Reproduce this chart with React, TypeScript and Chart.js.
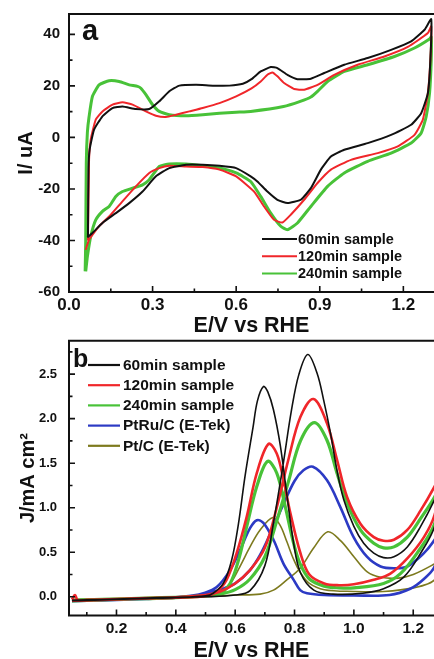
import React, { useEffect, useRef } from 'react';
import { Chart, registerables } from 'chart.js';
Chart.register(...registerables);

// ---------------- Panel a: CV curves (E / V vs RHE, I / uA) ----------------
const cvE60 = [0.068, 0.070, 0.074, 0.090, 0.120, 0.156, 0.192, 0.240, 0.288, 0.324, 0.360, 0.396, 0.456, 0.516, 0.576, 0.624, 0.655, 0.688, 0.724, 0.748, 0.784, 0.820, 0.868, 0.916, 0.988, 1.072, 1.156, 1.228, 1.276, 1.300,
  1.297, 1.288, 1.264, 1.228, 1.156, 1.072, 0.988, 0.940, 0.904, 0.868, 0.832, 0.784, 0.748, 0.712, 0.676, 0.652, 0.600, 0.540, 0.480, 0.420, 0.360, 0.312, 0.264, 0.216, 0.168, 0.120, 0.084, 0.066];
const cvI60 = [-38.5, -12, -4.8, 3, 8.2, 11.4, 12, 11, 11, 14, 17.9, 20.1, 20.4, 20.1, 20.1, 20.8, 22.6, 25.6, 27.3, 26.9, 24.3, 22.6, 22.8, 25, 28.2, 30.8, 34, 37.3, 41.8, 45.9,
  30.1, 17.2, 9.4, 4.9, 1, -2.2, -4.8, -7.4, -12.5, -19.7, -24.2, -25.5, -24.2, -21, -17.1, -15.1, -11.9, -11, -10.6, -10.6, -11.9, -15.1, -21, -25.5, -29.4, -33.2, -37.1, -38.8];

const cvE120 = [0.068, 0.072, 0.078, 0.096, 0.120, 0.156, 0.192, 0.228, 0.276, 0.312, 0.348, 0.384, 0.432, 0.480, 0.540, 0.600, 0.655, 0.688, 0.712, 0.730, 0.748, 0.772, 0.808, 0.844, 0.892, 0.952, 1.036, 1.132, 1.216, 1.288, 1.300,
  1.297, 1.288, 1.270, 1.240, 1.180, 1.108, 1.012, 0.940, 0.892, 0.844, 0.796, 0.766, 0.736, 0.700, 0.664, 0.600, 0.540, 0.480, 0.420, 0.360, 0.324, 0.288, 0.240, 0.192, 0.144, 0.108, 0.084, 0.072, 0.060];
const cvI120 = [-40, -8.7, -0.9, 6.9, 10.1, 12.7, 13.6, 12.7, 10.1, 8.4, 7.9, 8.8, 10.1, 11.4, 13.3, 15.9, 19, 21.7, 24.3, 25.2, 23.7, 21.1, 18.8, 18.5, 20.4, 24.3, 28.2, 31.4, 35.1, 40.5, 43.1,
  30.1, 17.2, 6.9, 1, -3.5, -6.1, -8.7, -12.5, -17.7, -24.2, -30, -33, -32, -26.8, -21, -15.1, -12.5, -11.5, -11.3, -11, -11.9, -13.8, -19, -24.8, -30.7, -34.5, -37.8, -39.7, -43.6];

const cvE240 = [0.058, 0.060, 0.062, 0.066, 0.072, 0.084, 0.108, 0.144, 0.180, 0.216, 0.246, 0.258, 0.276, 0.300, 0.324, 0.360, 0.420, 0.480, 0.540, 0.600, 0.652, 0.770, 0.830, 0.868, 0.892, 0.928, 0.988, 1.072, 1.168, 1.240, 1.294, 1.300,
  1.300, 1.294, 1.282, 1.264, 1.228, 1.156, 1.072, 0.988, 0.928, 0.868, 0.820, 0.784, 0.760, 0.724, 0.688, 0.652, 0.600, 0.540, 0.480, 0.420, 0.360, 0.324, 0.288, 0.264, 0.228, 0.192, 0.168, 0.144, 0.120, 0.096, 0.078, 0.066, 0.060];
const cvI240 = [-52, -40, -10, 2, 8, 15.9, 20.4, 22, 21.7, 20.4, 19.8, 19.1, 16.6, 12.7, 10.1, 8.8, 8.4, 8.8, 9.4, 9.8, 10.1, 12, 14, 15.7, 17.9, 21.7, 25.6, 28.2, 31.4, 34.7, 38.2, 39,
  30, 17.2, 8.1, 1.7, -2.2, -6.1, -9.3, -13.8, -19, -26.8, -33.2, -35.8, -34.5, -29.4, -22.9, -17.1, -13.8, -11.9, -11, -10.3, -10.3, -11.3, -16.4, -18.4, -19.7, -21, -22.9, -26.8, -28.7, -32, -38.4, -46.2, -52];

const labelsA = ['60min sample', '120min sample', '240min sample'];
const xTicksA = [0, 0.3, 0.6, 0.9, 1.2];
const xMinorA = [0.15, 0.45, 0.75, 1.05];
const yTicksA = [-60, -40, -20, 0, 20, 40];
const yMinorA = [-50, -30, -10, 10, 30];

// ---------------- Panel b: methanol oxidation (E / V vs RHE, J / mA cm^-2) ----------------
const mE60 = [0.05, 0.10, 0.20, 0.30, 0.40, 0.50, 0.60, 0.65, 0.70, 0.73, 0.76, 0.79, 0.815, 0.845, 0.876, 0.898, 0.921, 0.943, 0.966, 1.00, 1.033, 1.067, 1.10, 1.135, 1.18, 1.225, 1.272, 1.31,
  1.272, 1.225, 1.168, 1.10, 1.03, 0.93, 0.865, 0.82, 0.797, 0.774, 0.752, 0.729, 0.71, 0.695, 0.675, 0.66, 0.633, 0.611, 0.588, 0.56, 0.526, 0.50, 0.40, 0.30, 0.20, 0.10, 0.05];
const mJ60 = [-0.04, -0.035, -0.025, -0.015, -0.005, 0.0, 0.02, 0.07, 0.35, 0.85, 1.45, 2.1, 2.5, 2.72, 2.51, 2.21, 1.84, 1.42, 1.09, 0.79, 0.6, 0.49, 0.44, 0.45, 0.56, 0.79, 1.09, 1.4,
  0.79, 0.49, 0.22, 0.09, 0.04, 0.03, 0.075, 0.27, 0.6, 1.15, 1.7, 2.1, 2.3, 2.36, 2.2, 1.9, 1.35, 0.82, 0.41, 0.15, 0.04, 0.01, -0.01, -0.02, -0.03, -0.04, -0.045];

const mE120 = [0.05, 0.06, 0.07, 0.10, 0.20, 0.30, 0.40, 0.50, 0.55, 0.60, 0.65, 0.70, 0.74, 0.78, 0.82, 0.864, 0.909, 0.943, 0.977, 1.022, 1.067, 1.10, 1.135, 1.18, 1.225, 1.272, 1.31,
  1.272, 1.236, 1.18, 1.123, 1.067, 1.00, 0.95, 0.90, 0.85, 0.819, 0.786, 0.763, 0.74, 0.712, 0.673, 0.639, 0.605, 0.571, 0.538, 0.504, 0.40, 0.30, 0.20, 0.10, 0.05];
const mJ120 = [-0.03, 0.02, -0.04, -0.035, -0.025, -0.015, -0.005, 0.02, 0.06, 0.15, 0.3, 0.55, 1.0, 1.55, 2.02, 2.22, 1.95, 1.54, 1.12, 0.82, 0.67, 0.63, 0.64, 0.75, 0.97, 1.24, 1.5,
  0.92, 0.67, 0.43, 0.26, 0.19, 0.14, 0.13, 0.15, 0.25, 0.5, 0.94, 1.31, 1.61, 1.715, 1.39, 0.9, 0.49, 0.19, 0.06, 0.01, -0.01, -0.02, -0.03, -0.04, -0.045];

const mE240 = [0.05, 0.10, 0.20, 0.30, 0.40, 0.50, 0.55, 0.60, 0.65, 0.70, 0.74, 0.78, 0.82, 0.867, 0.909, 0.943, 0.977, 1.022, 1.067, 1.10, 1.135, 1.18, 1.225, 1.272, 1.31,
  1.272, 1.213, 1.157, 1.10, 1.00, 0.95, 0.90, 0.85, 0.819, 0.797, 0.769, 0.74, 0.709, 0.673, 0.639, 0.611, 0.583, 0.549, 0.50, 0.40, 0.30, 0.20, 0.10, 0.05];
const mJ240 = [-0.04, -0.035, -0.025, -0.015, -0.005, 0.01, 0.03, 0.08, 0.2, 0.45, 0.85, 1.3, 1.75, 1.955, 1.76, 1.39, 1.05, 0.75, 0.6, 0.55, 0.56, 0.67, 0.88, 1.12, 1.4,
  0.82, 0.49, 0.26, 0.15, 0.1, 0.1, 0.12, 0.2, 0.37, 0.6, 1.01, 1.39, 1.52, 1.24, 0.79, 0.41, 0.15, 0.04, 0.01, -0.01, -0.02, -0.03, -0.04, -0.045];

const mEPtRu = [0.05, 0.10, 0.20, 0.30, 0.40, 0.45, 0.50, 0.55, 0.60, 0.65, 0.684, 0.72, 0.76, 0.80, 0.83, 0.862, 0.909, 0.954, 0.999, 1.044, 1.09, 1.135, 1.18, 1.236, 1.272, 1.31,
  1.272, 1.236, 1.19, 1.12, 1.00, 0.90, 0.842, 0.819, 0.797, 0.763, 0.729, 0.695, 0.673, 0.65, 0.616, 0.583, 0.538, 0.493, 0.45, 0.40, 0.30, 0.20, 0.10, 0.05];
const mJPtRu = [-0.05, -0.045, -0.035, -0.02, -0.005, 0.01, 0.04, 0.08, 0.15, 0.3, 0.47, 0.72, 1.02, 1.3, 1.42, 1.46, 1.31, 1.01, 0.67, 0.45, 0.34, 0.32, 0.34, 0.49, 0.64, 0.85,
  0.34, 0.2, 0.09, 0.02, 0.015, 0.02, 0.04, 0.075, 0.19, 0.37, 0.64, 0.83, 0.86, 0.77, 0.52, 0.3, 0.11, 0.04, 0.01, -0.01, -0.025, -0.035, -0.045, -0.05];

const mEPt = [0.05, 0.10, 0.20, 0.30, 0.40, 0.50, 0.60, 0.684, 0.729, 0.774, 0.819, 0.865, 0.912, 0.955, 1.00, 1.045, 1.09, 1.15, 1.20, 1.272, 1.31,
  1.272, 1.20, 1.10, 1.00, 0.90, 0.85, 0.82, 0.797, 0.774, 0.752, 0.727, 0.684, 0.65, 0.616, 0.583, 0.538, 0.49, 0.40, 0.30, 0.20, 0.10, 0.05];
const mJPt = [-0.03, -0.025, -0.02, -0.01, 0.0, 0.005, 0.02, 0.03, 0.075, 0.19, 0.32, 0.55, 0.73, 0.63, 0.45, 0.28, 0.22, 0.21, 0.25, 0.37, 0.45,
  0.19, 0.1, 0.06, 0.06, 0.08, 0.15, 0.27, 0.42, 0.62, 0.8, 0.89, 0.75, 0.56, 0.34, 0.15, 0.04, 0.0, -0.01, -0.015, -0.02, -0.025, -0.03];

const labelsB = ['60min sample', '120min sample', '240min sample', 'PtRu/C (E-Tek)', 'Pt/C (E-Tek)'];
const xTicksB = [0.2, 0.4, 0.6, 0.8, 1.0, 1.2];
const xMinorB = [0.1, 0.3, 0.5, 0.7, 0.9, 1.1];
const yTicksB = [0, 0.5, 1.0, 1.5, 2.0, 2.5];
const yMinorB = [0.25, 0.75, 1.25, 1.75, 2.25, 2.75];

// ---------------- styling ----------------
const FONT = '"Liberation Sans", Arial, Helvetica, sans-serif';
const INK = '#111111';
const C_BLACK = '#111111';
const C_RED = '#f0262a';
const C_GREEN = '#48c238';
const C_BLUE = '#2c3ac4';
const C_OLIVE = '#7d7a1e';

const toPoints = (E: number[], V: number[]) => E.map((x, i) => ({ x, y: V[i] }));

const decorPlugin = {
  id: 'decor',
  afterDatasetsDraw(chart: any, _args: any, opts: any) {
    const { ctx, chartArea } = chart;
    const { left, right, top, bottom } = chartArea;
    const xs = chart.scales.x;
    const ys = chart.scales.y;
    ctx.save();
    ctx.strokeStyle = INK;
    ctx.lineCap = 'butt';
    ctx.lineWidth = 2;
    ctx.beginPath();
    ctx.moveTo(left - 1, top);
    ctx.lineTo(right + 2, top);
    ctx.moveTo(left, top - 1);
    ctx.lineTo(left, bottom + 1);
    ctx.moveTo(left - 1, bottom);
    ctx.lineTo(right + 2, bottom);
    ctx.stroke();
    ctx.lineWidth = 1.6;
    ctx.beginPath();
    const xt = (vals: number[], len: number) => vals.forEach((v) => {
      const p = xs.getPixelForValue(v);
      ctx.moveTo(p, bottom);
      ctx.lineTo(p, bottom - len);
    });
    const yt = (vals: number[], len: number) => vals.forEach((v) => {
      const p = ys.getPixelForValue(v);
      ctx.moveTo(left, p);
      ctx.lineTo(left + len, p);
    });
    xt(opts.xMajor, 6);
    xt(opts.xMinor, 3.5);
    yt(opts.yMajor, 6);
    yt(opts.yMinor, 3.5);
    ctx.stroke();

    // legend
    const lg = opts.legend;
    ctx.font = lg.font;
    ctx.textAlign = 'left';
    ctx.textBaseline = 'middle';
    chart.data.datasets.forEach((ds: any, i: number) => {
      const y = lg.y0 + i * lg.dy;
      ctx.strokeStyle = ds.borderColor;
      ctx.lineWidth = lg.lineWidth;
      ctx.beginPath();
      ctx.moveTo(lg.x1, y);
      ctx.lineTo(lg.x2, y);
      ctx.stroke();
      ctx.fillStyle = INK;
      ctx.fillText(ds.label, lg.tx, y + 0.5);
    });

    // panel tag
    ctx.font = opts.tagFont;
    ctx.textBaseline = 'alphabetic';
    ctx.fillStyle = INK;
    ctx.fillText(opts.tag, opts.tagX, opts.tagY);
    ctx.restore();
  },
};

function axis(o: any) {
  return {
    type: 'linear',
    min: o.min,
    max: o.max,
    grid: { display: false, drawTicks: false },
    border: { display: false },
    afterBuildTicks: (s: any) => {
      s.ticks = o.ticks.map((value: number) => ({ value }));
    },
    afterFit: (s: any) => {
      if (o.horizontal) {
        s.height = o.size;
        s.paddingLeft = 0;
        s.paddingRight = 0;
      } else {
        s.width = o.size;
        s.paddingTop = 0;
        s.paddingBottom = 0;
      }
    },
    ticks: {
      color: INK,
      autoSkip: false,
      maxRotation: 0,
      padding: o.pad,
      font: { family: FONT, size: o.tickSize, weight: 'bold' },
      callback: (v: any) => o.fmt(Number(v)),
    },
    title: {
      display: true,
      text: o.title,
      color: INK,
      font: { family: FONT, size: o.titleSize, weight: 'bold', lineHeight: 1 },
      padding: o.titlePad,
    },
  };
}

function lineDs(label: string, pts: any[], color: string, width: number, tension: number) {
  return {
    label,
    data: pts,
    showLine: true,
    borderColor: color,
    backgroundColor: color,
    borderWidth: width,
    pointRadius: 0,
    pointHoverRadius: 0,
    tension,
    fill: false,
  };
}

function configA(): any {
  return {
    type: 'scatter',
    data: {
      datasets: [
        lineDs(labelsA[0], toPoints(cvE60, cvI60), C_BLACK, 2, 0.15),
        lineDs(labelsA[1], toPoints(cvE120, cvI120), C_RED, 2, 0.15),
        lineDs(labelsA[2], toPoints(cvE240, cvI240), C_GREEN, 3, 0.15),
      ],
    },
    options: {
      animation: false,
      responsive: false,
      devicePixelRatio: 1,
      events: [],
      layout: { padding: { left: 0, right: 0, top: 14, bottom: 0 } },
      plugins: {
        legend: { display: false },
        tooltip: { enabled: false },
        decor: {
          xMajor: xTicksA, xMinor: xMinorA, yMajor: yTicksA, yMinor: yMinorA,
          legend: { x1: 262, x2: 297, tx: 298, y0: 239, dy: 17.3, lineWidth: 2, font: `bold 14.5px ${FONT}` },
          tag: 'a', tagX: 82, tagY: 40, tagFont: `bold 29px ${FONT}`,
        },
      },
      scales: {
        x: axis({ horizontal: true, min: 0, max: 1.31, ticks: xTicksA, size: 46, pad: 3, tickSize: 17,
          fmt: (v: number) => v.toFixed(1), title: 'E/V vs RHE', titleSize: 21.5, titlePad: { top: 0, bottom: 1 } }),
        y: axis({ horizontal: false, min: -60, max: 47.9, ticks: yTicksA, size: 69, pad: 9, tickSize: 15,
          fmt: (v: number) => String(v), title: 'I/ uA', titleSize: 20, titlePad: { top: 16, bottom: 0 } }),
      },
    },
    plugins: [decorPlugin],
  };
}

function configB(): any {
  return {
    type: 'scatter',
    data: {
      datasets: [
        lineDs(labelsB[0], toPoints(mE60, mJ60), C_BLACK, 1.6, 0.35),
        lineDs(labelsB[1], toPoints(mE120, mJ120), C_RED, 2.6, 0.35),
        lineDs(labelsB[2], toPoints(mE240, mJ240), C_GREEN, 3.2, 0.35),
        lineDs(labelsB[3], toPoints(mEPtRu, mJPtRu), C_BLUE, 2.6, 0.35),
        lineDs(labelsB[4], toPoints(mEPt, mJPt), C_OLIVE, 1.6, 0.35),
      ],
    },
    options: {
      animation: false,
      responsive: false,
      devicePixelRatio: 1,
      events: [],
      layout: { padding: { left: 0, right: 0, top: 2.7, bottom: 0 } },
      plugins: {
        legend: { display: false },
        tooltip: { enabled: false },
        decor: {
          xMajor: xTicksB, xMinor: xMinorB, yMajor: yTicksB, yMinor: yMinorB,
          legend: { x1: 88, x2: 120, tx: 123, y0: 27, dy: 20.2, lineWidth: 2.2, font: `bold 15.5px ${FONT}` },
          tag: 'b', tagX: 73, tagY: 29, tagFont: `bold 25px ${FONT}`,
        },
      },
      scales: {
        x: axis({ horizontal: true, min: 0.04, max: 1.27, ticks: xTicksB, size: 53.5, pad: 4, tickSize: 15.5,
          fmt: (v: number) => v.toFixed(1), title: 'E/V vs RHE', titleSize: 21.5, titlePad: { top: 0, bottom: 7 } }),
        y: axis({ horizontal: false, min: -0.21, max: 2.875, ticks: yTicksB, size: 69, pad: 12, tickSize: 13,
          fmt: (v: number) => v.toFixed(1), title: 'J/mA cm\u00B2', titleSize: 20, titlePad: { top: 18, bottom: 0 } }),
      },
    },
    plugins: [decorPlugin],
  };
}

export default function App() {
  const refA = useRef<HTMLCanvasElement>(null);
  const refB = useRef<HTMLCanvasElement>(null);
  useEffect(() => {
    const a = new Chart(refA.current as HTMLCanvasElement, configA());
    const b = new Chart(refB.current as HTMLCanvasElement, configB());
    return () => {
      a.destroy();
      b.destroy();
    };
  }, []);
  return (
    <div style={{ position: 'absolute', left: 0, top: 0, width: 434, height: 659, overflow: 'hidden', background: '#ffffff' }}>
      <canvas ref={refA} width={434} height={338} style={{ position: 'absolute', left: 0, top: 0, width: 434, height: 338 }} />
      <canvas ref={refB} width={434} height={331} style={{ position: 'absolute', left: 0, top: 338, width: 434, height: 331 }} />
    </div>
  );
}
